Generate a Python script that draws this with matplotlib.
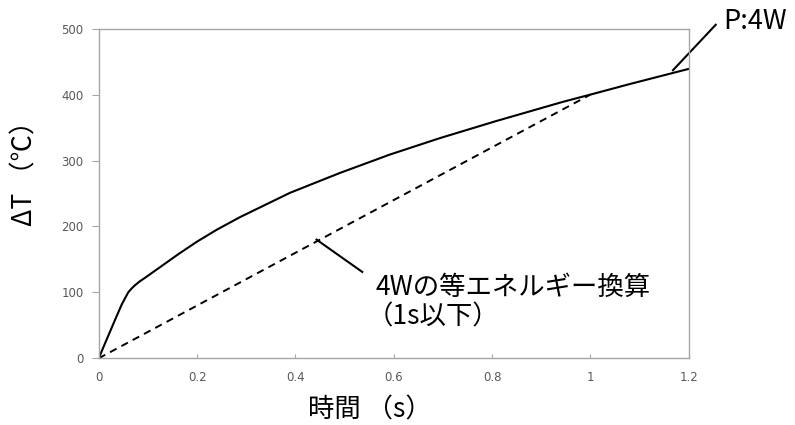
import numpy as np
import matplotlib
matplotlib.use('Agg')
import matplotlib.pyplot as plt

# Temperature rise for P = 4 W
t = [0, 0.013, 0.033, 0.047, 0.060, 0.067, 0.074, 0.084, 0.094, 0.128,
     0.162, 0.2, 0.24, 0.287, 0.389, 0.49, 0.592, 0.694, 0.809, 0.944,
     1.0, 1.08, 1.2]
dT = [0, 23, 58, 82, 100, 106, 111, 117, 122, 140,
      158, 177, 195, 214, 251, 281, 309, 334, 360, 389,
      400, 416, 439]

# equal-energy conversion (up to 1 s)
t_eq = [0, 1.0]
dT_eq = [0, 400]

xticks = [0, 0.2, 0.4, 0.6, 0.8, 1, 1.2]
xtick_labels = ['0', '0.2', '0.4', '0.6', '0.8', '1', '1.2']
yticks = [0, 100, 200, 300, 400, 500]

jp = ['Noto Sans CJK JP', 'DejaVu Sans']

fig = plt.figure(figsize=(7.95, 4.25), dpi=100)
ax = fig.add_axes([0.1242, 0.157, 0.7421, 0.7755])

ax.plot(t, dT, color='black', lw=1.5, solid_joinstyle='round')
ax.plot(t_eq, dT_eq, color='black', lw=1.4, dashes=(3.8, 2.8))

ax.set_xlim(0, 1.2)
ax.set_ylim(0, 500)
ax.set_xticks(xticks)
ax.set_xticklabels(xtick_labels)
ax.set_yticks(yticks)

for s in ax.spines.values():
    s.set_color('#a6a6a6')
    s.set_linewidth(1.0)
ax.tick_params(axis='x', direction='in', length=3, width=0.8, color='#a6a6a6',
               labelsize=8.5, labelcolor='#595959', pad=9)
ax.tick_params(axis='y', direction='out', length=5, width=0.8, color='#a6a6a6',
               labelsize=8.5, labelcolor='#595959', pad=6)

# leader lines and labels
ax.plot([0.443, 0.536], [180, 131], color='black', lw=1.5, clip_on=False)
ax.text(0.562, 107, '4Wの等エネルギー換算', family=jp, fontsize=19,
        va='center', ha='left')
ax.text(0.545, 63, '（1s以下）', family=jp, fontsize=19,
        va='center', ha='left')

ax.plot([1.168, 1.255], [437, 506], color='black', lw=1.5, clip_on=False)
ax.text(1.27, 511, 'P:4W', family=jp, fontsize=19.5, va='center', ha='left',
        clip_on=False)

fig.text(0.031, 0.607, 'ΔT （℃）', family=jp, fontsize=19, rotation=90,
         va='center', ha='center')
fig.text(0.465, 0.035, '時間 （s）', family=jp, fontsize=19,
         va='center', ha='center')

fig.savefig('out.png', dpi=100)
